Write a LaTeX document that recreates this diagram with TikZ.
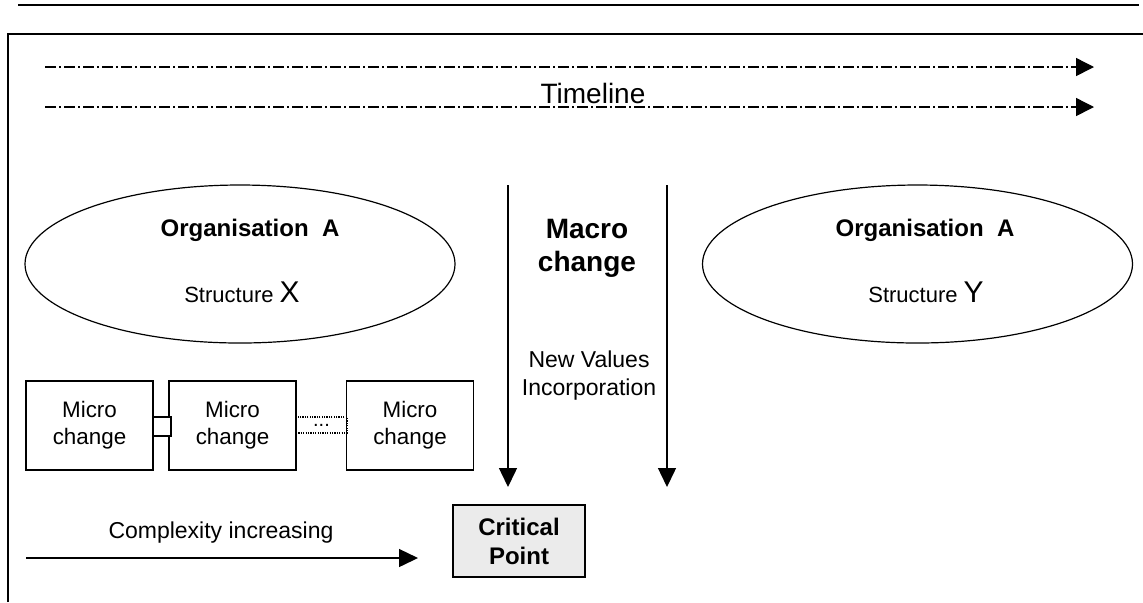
\documentclass[tikz,border=0pt]{standalone}
\usepackage{fontspec}
\setmainfont{Liberation Sans}
\usetikzlibrary{arrows.meta, positioning, shapes.geometric}

\tikzset{
	timeline/.style={line width=0.7pt, dash pattern=on 5.5pt off 1.5pt on 1pt off 1.5pt, -{Triangle[length=9pt,width=9pt]}},
	bigarrow/.style={line width=0.7pt, -{Triangle[length=9.5pt,width=9pt]}},
	org/.style={draw, ellipse, line width=0.6pt, minimum width=215pt, minimum height=79pt, inner sep=0pt},
	microbox/.style={draw, line width=0.6pt, minimum width=63.5pt, minimum height=44.5pt, align=center, font=\fontsize{11.2}{13.5}\selectfont},
	boldtext/.style={align=center, font=\bfseries\fontsize{12}{14.5}\selectfont},
}

\begin{document}
\begin{tikzpicture}[x=0.5pt, y=-0.5pt]
						\useasboundingbox (0,0) rectangle (1143,602);
						
						% page rule and frame
						\draw[line width=0.8pt] (18,5) -- (1139,5);
						\draw[line width=1pt] (8,602) -- (8,34) -- (1143,34);
						
						% timeline
						\coordinate (tl1a) at (45,67);
						\coordinate (tl1b) at (1094,67);
						\coordinate (tl2a) at (45,107);
						\coordinate (tl2b) at (1094,107);
						\draw[timeline] (tl1a) -- (tl1b);
						\draw[timeline] (tl2a) -- (tl2b);
						\node[anchor=base, font=\fontsize{14}{16}\selectfont] (timelbl) at (593,103) {Timeline};
						
						% organisations
						\node[org] (orgX) at (240,264) {};
						\node[org] (orgY) at (917.5,264) {};
						\node[boldtext] (orgXname) at (250,230) {Organisation~~A};
						\node[boldtext] (orgYname) at (925,230) {Organisation~~A};
						\node[anchor=base] (orgXstruct) at (242,302) {\fontsize{11}{12}\selectfont Structure \fontsize{15}{16}\selectfont X};
						\node[anchor=base] (orgYstruct) at (926,302) {\fontsize{11}{12}\selectfont Structure \fontsize{15}{16}\selectfont Y};
						
						% macro change
						\coordinate (macL1) at (508,185);
						\coordinate (macL2) at (508,487);
						\coordinate (macR1) at (667,185);
						\coordinate (macR2) at (667,487);
						\draw[bigarrow] (macL1) -- (macL2);
						\draw[bigarrow] (macR1) -- (macR2);
						\node[align=center, font=\bfseries\fontsize{14}{16.5}\selectfont] (macro) at (587,248.5) {Macro\\change};
						\node[align=center, font=\fontsize{11.5}{14}\selectfont] (values) at (589,376) {New Values\\Incorporation};
						
						% micro changes
						\node[microbox] (micro1) at (89.5,425.5) {Micro\\change};
						\node[microbox] (micro2) at (232.5,425.5) {Micro\\change};
						\node[microbox] (micro3) at (410,425.5) {Micro\\change};
						\node[draw, line width=0.6pt, fill=white, minimum width=9pt, minimum height=9.5pt, inner sep=0pt] (link1) at (162,426.5) {};
						\node[draw, line width=0.6pt, dash pattern=on 0.6pt off 0.6pt, minimum width=25.5pt, minimum height=8pt, inner sep=0pt, font=\fontsize{10}{10}\selectfont] (link2) at (321.5,425) {...};
						
						% complexity
						\node[font=\fontsize{11.5}{14}\selectfont] (complexity) at (221,533) {Complexity increasing};
						\coordinate (cplx1) at (26,558);
						\coordinate (cplx2) at (418,558);
						\draw[bigarrow] (cplx1) -- (cplx2);
						
						\node[boldtext, draw, line width=0.7pt, fill=black!8, minimum width=66pt, minimum height=36pt] (critical) at (519,541) {Critical\\Point};
					\end{tikzpicture}
\end{document}
